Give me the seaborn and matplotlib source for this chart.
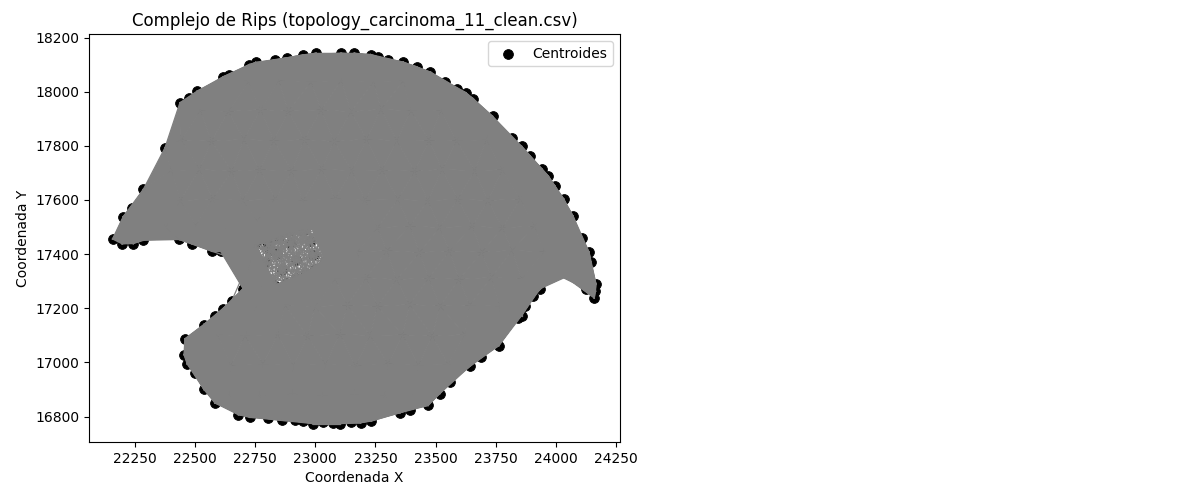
import numpy as np
import pandas as pd
import matplotlib
matplotlib.use('Agg')
import matplotlib.pyplot as plt
import seaborn as sns

# centroides visibles en el contorno
x_borde = [22157, 22197, 22243, 22285, 22434, 22486, 22569, 22606, 22201, 22236, 22285, 22375, 22437, 22475, 22509,
           22617, 22642, 22725, 22752, 22832, 22881, 22950, 23003, 23107, 23162, 23230, 23262, 23303, 23366, 23421,
           23479, 23539, 23590, 23626, 23657, 23737, 23816, 23858, 23892, 23941, 23969, 23996, 24034, 24072, 24107,
           24138, 24145, 24167, 24165, 24160, 24124, 23934, 23906, 23872, 23858, 23844, 23763, 23691, 23643, 23560,
           23518, 23469, 23393, 23352, 23231, 23188, 23150, 23102, 23072, 23033, 22989, 22950, 22915, 22860, 22802,
           22728, 22680, 22583, 22537, 22499, 22467, 22454, 22458, 22537, 22583, 22617, 22652, 22700]
y_borde = [17456, 17438, 17439, 17451, 17454, 17439, 17411, 17411, 17538, 17571, 17639, 17793, 17959, 17975, 18002,
           18055, 18062, 18100, 18108, 18116, 18125, 18136, 18142, 18142, 18142, 18137, 18128, 18116, 18109, 18092,
           18072, 18036, 18011, 17996, 17974, 17909, 17829, 17798, 17762, 17715, 17688, 17651, 17602, 17540, 17460,
           17408, 17371, 17290, 17263, 17238, 17272, 17272, 17244, 17207, 17173, 17165, 17062, 17019, 16986, 16927,
           16885, 16841, 16826, 16814, 16783, 16777, 16779, 16774, 16776, 16779, 16774, 16783, 16786, 16786, 16795,
           16797, 16807, 16850, 16900, 16961, 16995, 17029, 17087, 17140, 17170, 17198, 17226, 17272]

# centroides ocultos bajo las aristas (estimados)
x_interior = [22722, 22848, 22983, 23108, 23243, 23367, 23492,
              22522, 22638, 22773, 22887, 23024, 23148, 23273, 23398, 23523, 23642,
              22442, 22568, 22703, 22827, 22954, 23078, 23213, 23338, 23473, 23588, 23712,
              22402, 22518, 22653, 22768, 22903, 23027, 23152, 23278, 23413, 23527, 23663, 23778, 23888,
              22322, 22438, 22573, 22698, 22833, 22948, 23083, 23207, 23343, 23468, 23592, 23718, 23853, 23968,
              22262, 22378, 22503, 22628, 22758, 22862, 23132, 23258, 23393, 23517, 23653, 23778, 23912, 24028,
              23172, 23298, 23433, 23558, 23692, 23818, 23953, 24068,
              23082, 23212, 23338, 23472, 23598, 23733, 23858, 23992, 24090, 24010,
              22752, 22873, 22998, 23133, 23258, 23392, 23518, 23642, 23768,
              22592, 22708, 22843, 22968, 23102, 23228, 23363, 23487, 23622, 23748,
              22532, 22648, 22783, 22908, 23042, 23168, 23302, 23428, 23552,
              22642, 22768, 22903, 23028, 23163, 23288, 23422]
y_interior = [18038, 18043, 18036, 18042, 18037, 18041, 18033,
              17932, 17927, 17934, 17928, 17933, 17926, 17935, 17929, 17932, 17927,
              17822, 17817, 17824, 17818, 17823, 17816, 17825, 17819, 17821, 17818, 17823,
              17708, 17713, 17706, 17712, 17707, 17714, 17708, 17711, 17706, 17713, 17708, 17712, 17707,
              17602, 17597, 17604, 17598, 17603, 17596, 17605, 17599, 17602, 17597, 17603, 17598, 17604, 17597,
              17503, 17498, 17505, 17497, 17522, 17518, 17502, 17497, 17504, 17498, 17503, 17497, 17504, 17500,
              17408, 17413, 17406, 17412, 17407, 17414, 17408, 17411,
              17308, 17313, 17306, 17312, 17307, 17314, 17308, 17330, 17335, 17335,
              17208, 17213, 17206, 17212, 17207, 17214, 17208, 17212, 17207,
              17103, 17098, 17104, 17097, 17105, 17099, 17102, 17097, 17103, 17098,
              16992, 16987, 16994, 16988, 16993, 16986, 16995, 16989, 16992,
              16882, 16877, 16884, 16878, 16883, 16876, 16884]

# centroides alrededor de la zona poco densa
x_hueco = [22650, 22700, 22750, 22800, 22850, 22890, 22930, 22975, 23020, 23060, 23095,
           23110, 23080, 23040, 23000, 22960, 22920, 22880, 22830, 22780, 22740]
y_hueco = [17440, 17440, 17440, 17445, 17465, 17485, 17505, 17520, 17515, 17500, 17475,
           17440, 17405, 17375, 17345, 17330, 17310, 17295, 17285, 17265, 17260]

# centroides dentro de la zona poco densa
x_centro = [22790, 22840, 22860, 22900, 22920, 22980, 22990, 23040, 22760, 22950, 22720, 22810]
y_centro = [17370, 17400, 17340, 17440, 17380, 17450, 17395, 17445, 17330, 17485, 17365, 17415]

eps = 182

df = pd.DataFrame({'x': x_borde + x_interior + x_hueco + x_centro, 'y': y_borde + y_interior + y_hueco + y_centro})
n_solidos = len(x_borde) + len(x_interior)
n_con_hueco = n_solidos + len(x_hueco)
pts = df[['x', 'y']].to_numpy(dtype=float)
dist = np.hypot(pts[:, None, 0] - pts[None, :, 0], pts[:, None, 1] - pts[None, :, 1])
vecinos = (dist < eps) & (dist > 0)

fig = plt.figure(figsize=(12, 5), dpi=100)
ax = fig.add_axes([89 / 1200, 58 / 500, 531 / 1200, 408 / 500])

sns.scatterplot(data=df, x='x', y='y', color='black', edgecolor='black', s=50, label='Centroides', ax=ax, zorder=2)

# triangulos del complejo, sin los que quedan solo en el hueco
for i in range(n_solidos):
    for j in range(i + 1, n_con_hueco):
        if not vecinos[i, j]:
            continue
        for k in range(j + 1, n_con_hueco):
            if vecinos[i, k] and vecinos[j, k]:
                ax.fill(pts[[i, j, k], 0], pts[[i, j, k], 1], color='gray', lw=0, zorder=3)

# aristas
for i, j in zip(*np.triu_indices(len(pts), 1)):
    if vecinos[i, j]:
        ax.plot(pts[[i, j], 0], pts[[i, j], 1], color='gray', lw=0.9, zorder=3)

ax.set_xlim(22059, 24267)
ax.set_ylim(16706, 18213)
ax.set_xticks([22250, 22500, 22750, 23000, 23250, 23500, 23750, 24000, 24250])
ax.set_title('Complejo de Rips (topology_carcinoma_11_clean.csv)')
ax.set_xlabel('Coordenada X')
ax.set_ylabel('Coordenada Y')
ax.legend(loc='upper right')

fig.savefig('out.png', dpi=100)
